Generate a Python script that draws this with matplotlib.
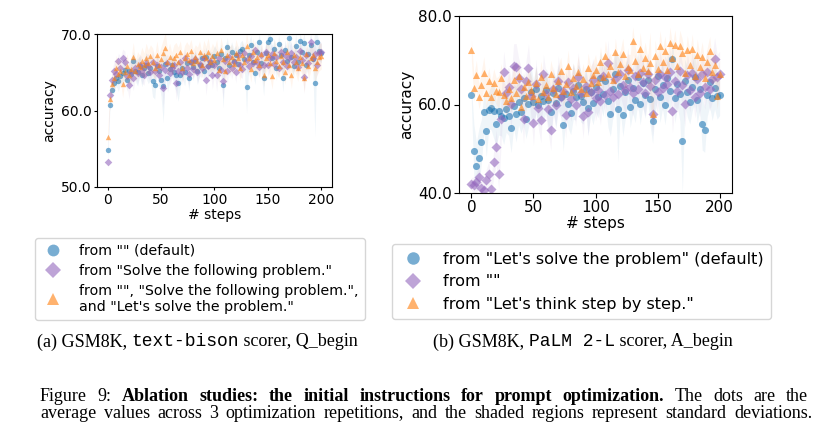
import numpy as np
import matplotlib
matplotlib.use("Agg")
import matplotlib.pyplot as plt
import matplotlib.transforms as mtransforms
from matplotlib.lines import Line2D

# ---- data (accuracy every 2 steps, 0..200) ----
a_blue = [54.8, 60.7, 62.7, 63.6, 64.2, 63.8, 64.5, 64.9, 65.3, 64.0,
          65.1, 64.8, 66.5, 65.2, 65.0, 65.8, 64.6, 65.5, 65.9, 64.9,
          65.6, 63.8, 63.3, 65.8, 65.2, 64.0, 63.2, 66.1, 64.3, 65.4,
          66.0, 65.0, 64.6, 63.6, 64.7, 65.5, 65.0, 66.2, 64.2, 66.3,
          65.7, 66.5, 65.1, 66.0, 66.8, 65.2, 67.0, 65.8, 66.4, 65.9,
          67.1, 66.3, 65.6, 67.4, 63.3, 66.9, 68.3, 66.0, 67.6, 66.5,
          67.2, 66.1, 67.8, 68.0, 66.7, 63.1, 67.3, 68.5, 66.4, 64.9,
          67.7, 69.0, 66.2, 64.3, 67.5, 68.9, 69.4, 66.8, 68.1, 65.5,
          68.7, 67.2, 64.2, 67.9, 66.5, 69.5, 67.0, 65.8, 68.4, 66.3,
          69.1, 67.6, 68.8, 65.9, 67.4, 68.5, 66.7, 63.6, 68.9, 67.8,
          67.5]
a_purple = [53.3, 62.0, 64.0, 65.2, 64.8, 66.5, 65.6, 66.8, 66.3, 64.5,
            63.3, 65.0, 64.2, 65.5, 64.9, 66.0, 65.3, 64.7, 66.2, 65.8,
            65.0, 66.4, 65.1, 66.0, 64.6, 65.7, 63.0, 65.3, 66.2, 64.9,
            65.5, 66.0, 63.6, 65.2, 66.4, 65.0, 66.8, 65.6, 64.8, 66.3,
            65.4, 66.7, 65.0, 66.1, 65.5, 66.9, 64.0, 65.8, 66.5, 64.6,
            66.0, 64.6, 66.8, 65.3, 63.8, 66.5, 65.1, 67.0, 65.6, 66.3,
            65.0, 67.2, 66.0, 65.4, 67.5, 66.6, 65.8, 67.1, 66.2, 67.9,
            66.4, 65.7, 67.3, 66.0, 67.6, 65.9, 66.8, 67.4, 66.1, 67.0,
            65.6, 67.7, 66.3, 67.2, 65.8, 66.9, 67.5, 66.4, 67.0, 65.7,
            67.8, 66.6, 64.4, 67.3, 66.2, 68.9, 66.8, 67.4, 66.0, 67.5,
            67.6]
a_orange = [56.6, 61.5, 63.5, 64.3, 65.6, 64.8, 65.2, 63.5, 65.0, 65.8,
            64.6, 65.4, 67.0, 65.2, 66.1, 65.7, 66.5, 65.9, 66.8, 66.2,
            67.1, 66.4, 65.6, 67.2, 66.0, 66.7, 67.5, 68.2, 66.3, 67.0,
            66.1, 66.9, 67.3, 66.4, 67.6, 65.5, 66.8, 67.4, 66.6, 67.8,
            66.2, 67.0, 66.5, 67.6, 66.0, 67.3, 66.8, 67.7, 66.4, 67.1,
            66.6, 67.5, 65.3, 67.9, 66.7, 65.1, 67.3, 66.4, 67.0, 66.1,
            67.5, 66.8, 65.6, 67.2, 66.3, 68.4, 66.9, 65.4, 67.6, 66.6,
            67.0, 65.9, 67.4, 64.6, 66.8, 67.3, 66.2, 64.5, 67.5, 66.5,
            65.8, 67.1, 66.3, 65.0, 67.6, 66.0, 64.6, 67.2, 66.4, 65.6,
            67.0, 66.2, 64.3, 67.4, 65.8, 66.9, 67.2, 65.6, 66.3, 67.0,
            67.1]
a_blue_std = [0.6, 0.8, 1.0, 1.2, 1.0, 1.3, 1.1, 1.4, 1.2, 1.5,
              1.3, 1.6, 1.2, 1.4, 1.8, 1.3, 1.5, 1.2, 1.7, 1.4,
              1.6, 2.0, 1.8, 1.3, 1.5, 2.2, 4.8, 1.4, 1.9, 1.6,
              1.3, 1.7, 2.1, 2.4, 1.5, 1.2, 1.8, 1.4, 1.6, 1.3,
              1.5, 1.2, 1.7, 1.4, 1.1, 1.6, 1.3, 1.5, 1.2, 1.8,
              1.4, 1.6, 1.9, 1.3, 3.0, 1.5, 1.2, 1.7, 1.4, 1.6,
              1.3, 1.5, 1.1, 1.2, 1.4, 3.5, 1.6, 1.3, 1.8, 1.5,
              1.2, 1.0, 1.7, 2.4, 1.4, 1.1, 0.9, 1.5, 1.3, 1.6,
              1.2, 1.4, 1.8, 1.3, 1.5, 0.9, 1.6, 1.4, 1.7, 1.2,
              1.0, 1.5, 1.3, 1.1, 1.6, 1.4, 1.2, 7.0, 1.0, 1.3,
              1.2]
a_purple_std = [0.5, 0.9, 1.1, 1.3, 1.2, 1.0, 1.4, 1.2, 1.5, 1.3,
                1.8, 1.4, 1.6, 1.2, 1.5, 1.3, 1.7, 1.4, 1.2, 1.6,
                1.3, 1.5, 1.2, 1.4, 1.7, 1.3, 2.6, 1.5, 1.2, 1.6,
                1.4, 1.3, 2.2, 1.5, 1.2, 1.7, 1.3, 1.4, 1.6, 1.2,
                1.5, 1.3, 1.4, 1.6, 1.2, 1.3, 2.0, 1.5, 1.4, 1.8,
                1.3, 2.1, 1.5, 1.2, 2.3, 1.4, 1.6, 1.3, 1.5, 1.2,
                1.4, 1.3, 1.6, 1.2, 1.5, 1.4, 1.3, 1.1, 1.5, 1.2,
                1.6, 1.4, 1.3, 1.5, 1.2, 1.4, 1.6, 1.3, 1.5, 1.2,
                1.4, 1.3, 1.7, 1.5, 1.2, 1.6, 1.4, 1.3, 1.5, 1.2,
                1.4, 1.6, 2.2, 1.3, 1.5, 1.2, 1.4, 1.3, 1.6, 1.5,
                1.3]
a_orange_std = [0.7, 1.0, 1.2, 1.4, 1.6, 1.3, 1.5, 1.8, 1.4, 1.6,
                1.5, 1.7, 1.9, 1.4, 1.6, 1.5, 1.8, 1.6, 2.0, 1.7,
                1.5, 1.8, 1.6, 1.9, 1.5, 1.7, 1.8, 2.0, 1.6, 1.8,
                1.5, 1.7, 1.6, 1.9, 1.5, 1.8, 1.7, 1.6, 1.9, 1.5,
                1.7, 1.6, 1.8, 1.5, 1.7, 1.9, 1.6, 1.8, 1.5, 1.7,
                1.6, 1.8, 2.0, 1.7, 1.5, 1.8, 1.6, 1.9, 1.7, 1.5,
                1.8, 1.6, 1.7, 1.9, 1.5, 1.8, 1.6, 1.7, 1.9, 1.5,
                1.8, 1.6, 1.7, 1.5, 1.9, 1.6, 2.0, 1.7, 1.8, 1.6,
                1.5, 1.9, 1.7, 1.6, 1.8, 1.5, 1.7, 1.9, 1.6, 1.8,
                1.7, 1.5, 1.9, 1.6, 1.8, 1.7, 1.5, 1.9, 1.6, 1.8,
                1.7]

b_blue = [62.2, 49.5, 46.0, 48.0, 51.6, 58.3, 54.0, 58.8, 59.2, 58.5,
          55.5, 58.6, 57.5, 57.0, 58.9, 57.4, 54.7, 59.6, 57.8, 60.5,
          58.2, 61.5, 56.8, 60.2, 62.9, 60.5, 63.4, 59.8, 62.0, 60.8,
          63.2, 61.0, 58.3, 62.6, 60.4, 63.8, 61.6, 55.4, 62.4, 60.1,
          58.0, 63.0, 61.7, 64.5, 62.0, 60.6, 63.6, 59.1, 62.8, 60.3,
          64.0, 61.8, 66.0, 62.4, 65.2, 60.7, 57.8, 63.5, 66.8, 59.0,
          64.2, 57.7, 62.9, 65.5, 59.4, 63.7, 61.0, 66.3, 60.2, 64.8,
          62.1, 65.6, 61.3, 56.2, 63.5, 66.5, 61.7, 64.3, 60.0, 65.9,
          63.0, 70.2, 61.5, 64.6, 62.4, 51.8, 65.2, 62.8, 60.5, 64.0,
          66.3, 61.0, 63.4, 55.5, 54.3, 62.2, 65.0, 61.4, 63.8, 62.0,
          62.1]
b_purple = [42.0, 41.8, 42.4, 43.6, 41.2, 40.7, 43.0, 44.3, 40.8, 47.0,
            50.3, 44.2, 56.8, 67.3, 62.5, 64.0, 60.1, 68.8, 68.5, 66.0,
            63.4, 56.8, 65.2, 68.3, 62.0, 55.8, 64.6, 59.3, 56.6, 66.8,
            62.3, 58.9, 54.3, 63.5, 60.0, 65.4, 61.8, 63.0, 57.7, 65.0,
            61.2, 63.8, 59.9, 66.2, 62.6, 57.5, 64.1, 58.3, 62.9, 65.6,
            61.5, 63.3, 60.8, 66.4, 62.1, 69.3, 63.0, 61.7, 65.8, 62.4,
            67.0, 64.5, 63.2, 67.8, 64.0, 62.7, 66.5, 63.6, 67.2, 65.0,
            62.5, 66.8, 64.2, 57.8, 65.6, 62.9, 67.0, 63.8, 66.2, 64.6,
            67.4, 58.5, 65.3, 63.0, 67.5, 64.4, 60.2, 66.6, 63.2, 67.1,
            61.8, 65.7, 62.6, 66.9, 64.0, 67.3, 63.5, 65.8, 70.3, 66.2,
            67.0]
b_orange = [72.3, 63.8, 66.6, 61.8, 64.4, 67.2, 62.5, 65.4, 61.6, 64.8,
            63.0, 62.8, 66.0, 62.2, 60.9, 63.6, 61.5, 65.6, 62.7, 66.4,
            59.4, 64.0, 61.9, 65.1, 63.2, 62.0, 64.8, 61.2, 66.3, 62.9,
            64.5, 61.6, 66.8, 63.7, 62.4, 65.3, 67.6, 63.1, 64.6, 68.6,
            62.8, 66.0, 64.2, 67.4, 63.6, 65.8, 62.7, 68.3, 64.9, 66.6,
            67.9, 65.0, 69.5, 66.2, 70.9, 67.0, 68.7, 65.5, 71.8, 67.3,
            69.1, 71.5, 66.4, 68.5, 67.7, 74.4, 69.8, 66.9, 72.5, 68.2,
            70.6, 67.5, 69.4, 57.9, 71.0, 68.0, 73.3, 69.6, 72.0, 67.8,
            73.8, 70.4, 73.5, 68.6, 73.2, 71.6, 67.2, 72.3, 69.0, 72.6,
            66.5, 71.2, 68.4, 70.7, 65.9, 69.7, 72.0, 67.4, 68.9, 62.0,
            66.8]
b_blue_std = [2.0, 6.0, 5.5, 6.5, 5.0, 4.5, 5.8, 4.2, 5.0, 6.2,
              4.8, 5.5, 4.6, 6.0, 5.2, 4.4, 5.6, 4.9, 6.3, 5.1,
              4.7, 5.9, 4.5, 5.3, 6.0, 4.8, 5.4, 4.6, 5.7, 5.0,
              4.9, 6.2, 5.1, 4.7, 5.8, 5.3, 4.5, 6.0, 4.9, 5.5,
              4.8, 6.4, 5.2, 4.6, 5.9, 5.0, 4.7, 6.1, 5.3, 4.9,
              5.6, 4.8, 6.0, 5.1, 4.7, 5.8, 5.0, 6.3, 5.2, 12.0,
              5.5, 4.9, 6.2, 5.0, 4.6, 5.7, 5.1, 6.0, 4.8, 5.4,
              5.2, 4.7, 6.1, 5.0, 5.5, 4.9, 5.8, 5.2, 4.6, 6.0,
              5.3, 4.8, 5.7, 5.1, 6.2, 12.0, 5.0, 5.6, 4.9, 5.4,
              6.0, 5.2, 4.7, 5.8, 5.1, 4.9, 5.5, 5.0, 4.8, 5.3,
              4.6]
b_purple_std = [1.5, 1.8, 2.2, 2.6, 2.0, 1.7, 2.4, 2.8, 2.1, 3.0,
                4.0, 3.5, 5.5, 4.8, 5.2, 4.5, 5.8, 4.9, 5.3, 4.6,
                5.0, 5.6, 4.7, 5.4, 4.9, 5.1, 5.7, 4.8, 5.3, 4.6,
                5.0, 5.5, 4.7, 5.2, 4.9, 5.6, 4.8, 5.1, 5.4, 4.7,
                5.0, 5.3, 4.8, 5.5, 4.9, 5.1, 4.6, 5.4, 5.0, 4.8,
                5.2, 4.9, 5.5, 4.7, 5.1, 5.3, 4.8, 5.0, 5.6, 4.9,
                5.2, 4.7, 5.4, 5.0, 4.8, 5.3, 4.9, 5.1, 4.6, 5.5,
                5.0, 4.8, 5.2, 4.9, 5.4, 4.7, 5.1, 5.3, 4.8, 5.0,
                5.2, 4.9, 5.5, 4.7, 5.1, 4.8, 5.3, 5.0, 4.9, 5.2,
                4.8, 5.1, 5.4, 4.7, 5.0, 5.2, 4.9, 5.3, 4.8, 5.1,
                5.0]
b_orange_std = [2.5, 3.0, 3.4, 2.8, 3.2, 3.6, 3.1, 2.9, 3.5, 3.3,
                3.0, 3.7, 3.2, 2.9, 3.4, 3.6, 3.1, 3.8, 3.0, 3.5,
                3.3, 2.9, 3.6, 3.2, 3.4, 3.0, 3.7, 3.1, 3.5, 3.3,
                2.9, 3.6, 3.2, 3.8, 3.0, 3.4, 3.1, 3.5, 3.3, 3.7,
                3.0, 3.4, 3.2, 3.6, 2.9, 3.5, 3.1, 3.3, 3.8, 3.0,
                3.4, 3.2, 3.6, 3.1, 3.5, 3.3, 3.0, 3.7, 3.2, 3.4,
                3.1, 3.5, 3.3, 2.9, 3.6, 3.2, 3.4, 3.0, 3.8, 3.1,
                3.5, 3.3, 7.0, 3.2, 3.6, 3.0, 3.4, 3.1, 3.5, 3.3,
                3.7, 3.0, 3.4, 3.2, 3.6, 3.1, 3.5, 3.3, 2.9, 3.4,
                3.2, 3.6, 3.0, 3.5, 3.3, 3.1, 3.4, 3.2, 3.6, 3.0,
                3.3]

labels_a = ['from "" (default)',
            'from "Solve the following problem."',
            'from "", "Solve the following problem.",\nand "Let\'s solve the problem."']
labels_b = ['from "Let\'s solve the problem" (default)',
            'from ""',
            'from "Let\'s think step by step."']

colors = ["tab:blue", "tab:purple", "tab:orange"]
markers = ["o", "D", "^"]

W, H = 820, 429
fig = plt.figure(figsize=(W / 100, H / 100), dpi=100)


def px_axes(l, t, r, b):
    return fig.add_axes([l / W, 1 - b / H, (r - l) / W, (b - t) / H])


def draw_panel(ax, series, stds, ylim, yticks, msize, fs, tlen):
    for vals, sd, c, m in zip(series, stds, colors, markers):
        y = np.array(vals)
        s = np.array(sd)
        x = np.arange(len(y)) * 2
        ax.fill_between(x, y - s, y + s, color=c, alpha=0.07, lw=0)
        ax.scatter(x, y, s=msize, marker=m, color=c, alpha=0.6, lw=0)
    ax.set_xlim(-10, 210)
    ax.set_ylim(*ylim)
    ax.set_xticks([0, 50, 100, 150, 200])
    ax.set_yticks(yticks)
    ax.set_yticklabels([f"{v:.1f}" for v in yticks])
    ax.tick_params(labelsize=fs, length=tlen, pad=1.5)
    ax.set_xlabel("# steps", fontsize=fs, labelpad=1)
    ax.set_ylabel("accuracy", fontsize=fs, labelpad=3)


ax1 = px_axes(97, 34, 332, 187)
draw_panel(ax1, [a_blue, a_purple, a_orange], [a_blue_std, a_purple_std, a_orange_std],
           (50, 70), [50, 60, 70], 15, 10, 2.5)
ax2 = px_axes(459, 16, 732, 193)
draw_panel(ax2, [b_blue, b_purple, b_orange], [b_blue_std, b_purple_std, b_orange_std],
           (40, 80), [40, 60, 80], 26, 11, 3.5)


def handles(ms):
    return [Line2D([], [], ls="", marker=m, color=c, alpha=0.6,
                   markersize=ms if m != "D" else ms * 0.95, markeredgewidth=0)
            for c, m in zip(colors, markers)]


fig.legend(handles(8.5), labels_a, loc="upper left", bbox_to_anchor=(35 / W, 1 - 238 / H),
           borderaxespad=0, fontsize=10.2, handlelength=1.7, handletextpad=1.0,
           labelspacing=0.42, borderpad=0.42, frameon=True)
fig.legend(handles(9), labels_b, loc="upper left", bbox_to_anchor=(392 / W, 1 - 244 / H),
           borderaxespad=0, fontsize=11.6, handlelength=1.66, handletextpad=1.03,
           labelspacing=0.47, borderpad=0.47, frameon=True)

# ---- captions (mixed fonts) ----
serif = dict(family="Liberation Serif")
serif_b = dict(family="Liberation Serif", weight="bold")
mono = dict(family="Liberation Mono")
ident = mtransforms.IdentityTransform()
fig.canvas.draw()
renderer = fig.canvas.get_renderer()


def mixed_line(pieces, x0, x1, base, size):
    # scale the pieces to fill x0..x1 (pixels, top-left origin)
    txts = [fig.text(0, H - base, s, fontsize=size, transform=ident, va="baseline", ha="left", **kw)
            for s, kw in pieces]
    widths = [t.get_window_extent(renderer).width for t in txts]
    k = (x1 - x0) / sum(widths)
    x = x0
    for t in txts:
        t.set_fontsize(size * k)
        w = t.get_window_extent(renderer).width
        t.set_x(x)
        x += w


def justified(pieces, x0, x1, base, size):
    # word by word, spread over x0..x1 like a justified line
    words = []
    for s, kw in pieces:
        words += [(w, kw) for w in s.split()]
    txts = [fig.text(0, H - base, w, fontsize=size, transform=ident, va="baseline", ha="left", **kw)
            for w, kw in words]
    widths = [t.get_window_extent(renderer).width for t in txts]
    gap = (x1 - x0 - sum(widths)) / (len(txts) - 1)
    x = x0
    for t, w in zip(txts, widths):
        t.set_x(x)
        x += w + gap


mixed_line([("(a) GSM8K, ", serif), ("text-bison", mono), (" scorer, Q_begin", serif)],
           37, 358, 346.5, 12)
mixed_line([("(b) GSM8K, ", serif), ("PaLM 2-L", mono), (" scorer, A_begin", serif)],
           433, 732, 346.5, 12)
justified([("Figure 9:", serif),
           ("Ablation studies: the initial instructions for prompt optimization.", serif_b),
           ("The dots are the", serif)], 40, 808, 401, 13)
justified([("average values across 3 optimization repetitions, and the shaded regions "
            "represent standard deviations.", serif)], 40, 812, 418, 13)

fig.savefig("out.png", dpi=100)
